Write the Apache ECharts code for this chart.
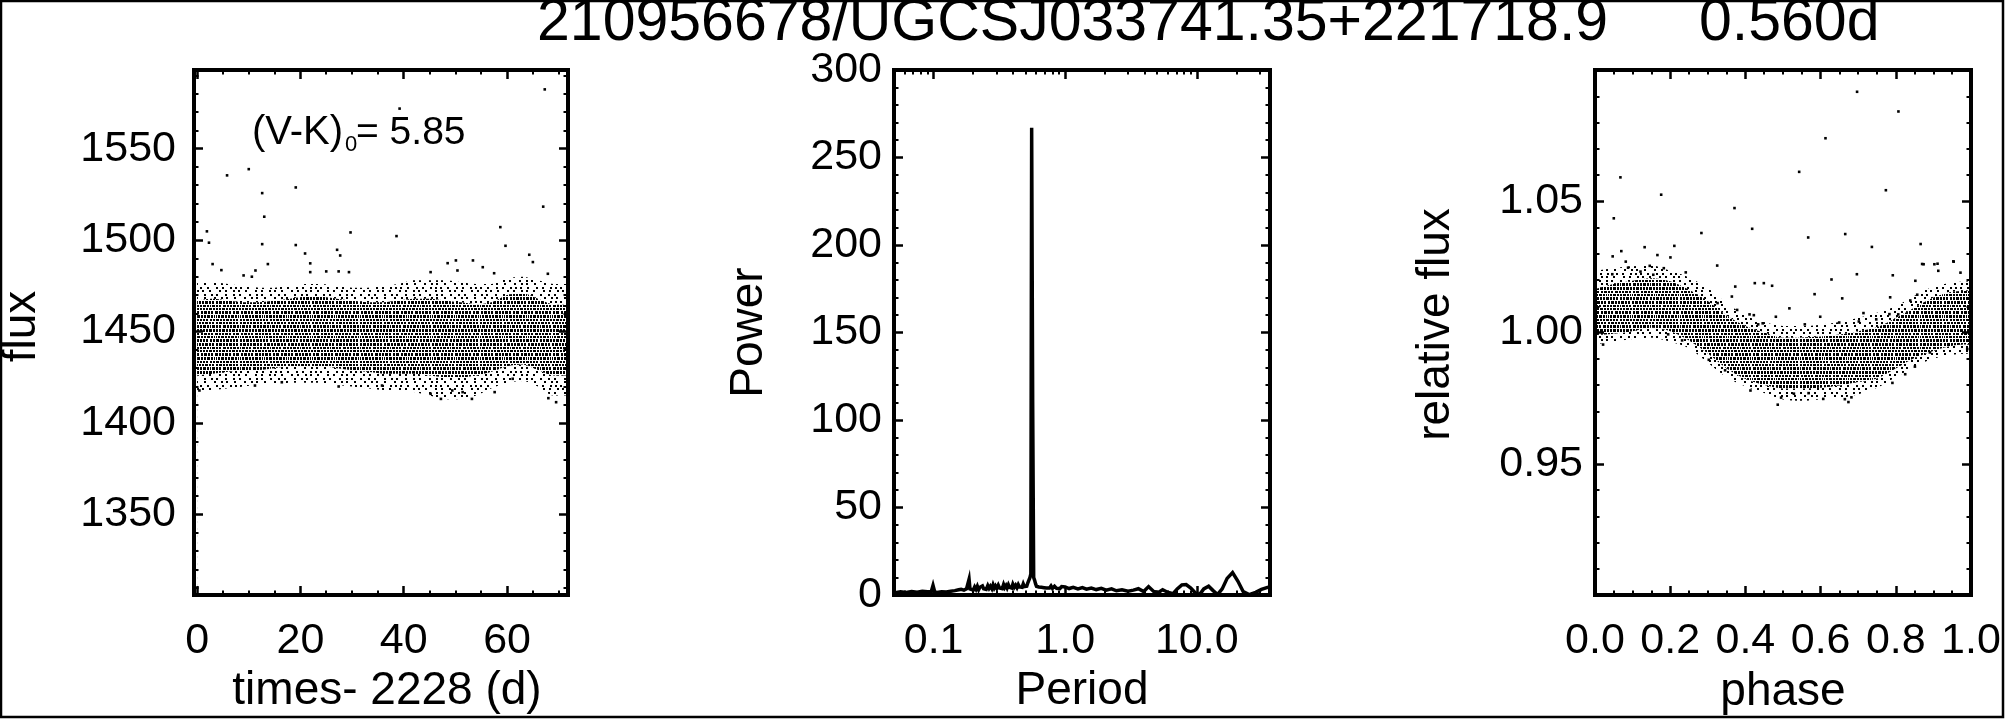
<!DOCTYPE html>
<html>
<head>
<meta charset="utf-8">
<script src="https://cdn.jsdelivr.net/npm/echarts@6.0.0/dist/echarts.min.js"></script>
<style>
html,body{margin:0;padding:0;background:#fff;}
#c{width:2005px;height:720px;}
</style>
</head>
<body>
<div id="c"></div>
<script>
// ---------- text ----------
const titleMain = '210956678/UGCSJ033741.35+221718.9';
const titlePeriod = '0.560d';

// ---------- tick labels ----------
const timeTicks = [0, 20, 40, 60];
const fluxTicks = [1350, 1400, 1450, 1500, 1550];
const periodTicks = [0.1, 1, 10];
const powerTicks = [0, 50, 100, 150, 200, 250, 300];
const phaseTicks = [0, 0.2, 0.4, 0.6, 0.8, 1.0];
const relFluxTicks = [0.95, 1.00, 1.05];

// ---------- panel 1: light curve (band edges read at 3-day steps) ----------
const lcTime      = [0,3,6,9,12,15,18,21,24,27,30,33,36,39,42,45,48,51,54,57,60,63,66,69,72];
const lcOuterLow  = [1417,1418,1419,1420,1421,1421,1422,1422,1422,1421,1420,1419,1418,1418,1417,1415,1413,1413,1415,1419,1422,1423,1420,1415,1415];
const lcCoreLow   = [1426,1427,1428,1429,1429,1430,1431,1431,1431,1430,1429,1428,1427,1427,1427,1426,1425,1425,1426,1428,1431,1432,1429,1426,1426];
const lcCoreHigh  = [1467,1468,1467,1466,1466,1467,1468,1469,1469,1468,1467,1466,1466,1467,1468,1468,1467,1466,1465,1466,1470,1471,1468,1465,1465];
const lcOuterHigh = [1477,1477,1476,1475,1474,1474,1475,1476,1476,1475,1474,1474,1475,1476,1478,1478,1478,1477,1476,1476,1479,1480,1478,1476,1476];
// isolated points outside the band [time, flux]
const lcPoints = [
 [0.45,1417.8],[1.9,1504.8],[2.3,1498.6],[3.0,1486.9],[4.7,1483.6],[5.8,1535.4],[9.0,1480.7],[10.0,1538.8],
 [10.6,1480.0],[11.2,1420.5],[11.3,1483.4],[12.6,1525.7],[12.6,1497.8],[13.0,1512.8],[13.7,1486.9],[16.4,1422.3],
 [19.1,1528.8],[19.1,1497.3],[20.9,1492.7],[21.9,1487.3],[21.9,1482.5],[25.0,1482.9],[27.1,1494.7],[27.4,1482.9],
 [27.4,1420.0],[27.7,1491.6],[29.4,1482.5],[29.7,1504.2],[35.8,1420.5],[38.6,1502.2],[39.2,1571.9],[45.2,1482.5],
 [45.2,1416.0],[47.2,1413.2],[48.5,1487.4],[49.4,1417.8],[50.1,1488.9],[50.4,1483.4],[51.4,1416.9],[53.2,1413.2],
 [53.4,1488.9],[55.3,1485.2],[57.5,1481.9],[57.6,1416.9],[58.7,1507.1],[59.7,1496.9],[61.1,1424.2],[64.3,1492.0],
 [65.0,1488.0],[67.0,1518.3],[67.3,1582.4],[67.9,1481.6],[68.0,1413.6],[69.5,1411.4]
];

// ---------- panel 2: periodogram ----------
const pgPeriod = [
 0.050,0.056,0.062,0.068,0.075,0.082,0.090,0.096,0.099,0.102,0.106,0.115,0.125,0.135,0.145,0.155,0.162,0.170,0.178,0.184,
 0.186,0.189,0.195,0.200,0.205,0.210,0.215,0.220,0.225,0.230,0.235,0.240,0.245,0.251,0.258,0.264,0.270,0.277,0.283,0.289,
 0.295,0.302,0.310,0.317,0.325,0.332,0.340,0.347,0.355,0.362,0.370,0.377,0.385,0.392,0.400,0.410,0.420,0.430,0.440,0.450,
 0.460,0.470,0.480,0.490,0.500,0.510,0.520,0.530,0.540,0.548,0.556,0.566,0.576,0.585,0.595,0.605,0.615,0.630,0.645,0.660,
 0.675,0.690,0.705,0.720,0.740,0.760,0.780,0.800,0.830,0.860,0.880,0.910,0.940,0.970,1.00,1.07,1.15,1.25,1.35,1.45,
 1.58,1.72,1.88,2.05,2.25,2.45,2.70,3.00,3.30,3.60,3.95,4.30,4.70,5.10,5.50,6.00,6.60,7.10,7.70,8.30,
 9.00,9.80,10.5,11.3,12.3,13.3,14.4,15.6,17.0,18.7,20.5,22.5,25.0,28.0,31.0,35.0];
const pgPower = [
 1.2,1.8,1.5,2.0,1.6,2.2,1.8,2.0,5.5,1.8,1.5,1.9,1.7,2.2,2.5,3.0,3.3,2.8,3.6,3.2,
 9.0,3.5,4.2,2.8,4.6,3.2,5.0,3.0,4.4,3.4,5.2,3.6,4.6,3.2,5.4,3.8,5.0,3.6,5.8,4.0,
 5.2,3.8,5.6,4.0,5.0,3.6,6.0,4.2,5.4,4.0,5.8,4.4,5.2,4.0,6.2,4.4,5.6,4.2,6.0,4.6,
 5.4,4.4,6.4,4.8,5.6,5.0,7.0,8.0,10,12,267,110,10,8.5,6.5,5.0,6.0,4.6,5.6,4.4,
 5.4,4.2,5.2,4.0,5.0,4.0,5.2,3.8,5.0,3.8,4.8,3.6,4.8,3.8,4.6,3.7,4.4,3.5,4.2,3.3,
 4.0,3.1,3.8,2.8,3.5,2.4,3.0,2.2,2.8,3.6,2.0,4.8,2.0,1.5,3.0,1.6,0.8,3.5,5.8,6.0,
 4.0,1.0,0.2,3.5,5.0,2.5,0.3,3.5,9.5,12.8,8.0,2.0,0.2,1.5,3.2,4.5];

// ---------- panel 3: phased light curve (band edges at 0.05 phase steps) ----------
const phGrid      = [0,0.05,0.10,0.15,0.20,0.25,0.30,0.35,0.40,0.45,0.50,0.55,0.60,0.65,0.70,0.75,0.80,0.85,0.90,0.95,1.00];
const phOuterLow  = [0.9955,0.9965,0.9975,0.9980,0.9965,0.9940,0.9885,0.9830,0.9795,0.9770,0.9745,0.9740,0.9745,0.9750,0.9765,0.9790,0.9830,0.9870,0.9900,0.9915,0.9920];
const phCoreLow   = [0.9990,0.9995,1.0005,1.0018,1.0005,0.9970,0.9920,0.9863,0.9823,0.9800,0.9787,0.9787,0.9790,0.9798,0.9811,0.9825,0.9863,0.9903,0.9930,0.9950,0.9955];
const phCoreHigh  = [1.0165,1.0185,1.0197,1.0207,1.0195,1.0163,1.0120,1.0065,1.0025,1.0000,0.9980,0.9981,0.9985,0.9992,1.0005,1.0020,1.0055,1.0095,1.0133,1.0155,1.0160];
const phOuterHigh = [1.0235,1.0245,1.0252,1.0255,1.0235,1.0210,1.0170,1.0112,1.0065,1.0040,1.0025,1.0025,1.0030,1.0040,1.0055,1.0075,1.0100,1.0140,1.0175,1.0190,1.0195];
const phPoints = [
 [0.0215,0.9954],[0.046,1.0222],[0.047,1.029],[0.050,1.0435],[0.0676,1.0591],[0.070,1.031],[0.0818,1.027],[0.088,1.0247],
 [0.121,1.0232],[0.132,1.0325],[0.1456,1.0254],[0.155,1.022],[0.166,1.0295],[0.176,1.0525],[0.183,1.0245],[0.1945,0.9993],
 [0.2006,1.0286],[0.211,1.033],[0.2317,0.997],[0.2414,1.0229],[0.283,1.0379],[0.3026,0.9896],[0.325,1.0255],[0.326,1.0112],
 [0.346,0.9856],[0.364,1.0137],[0.371,1.0474],[0.373,1.0175],[0.378,1.0086],[0.411,1.0069],[0.4135,0.9779],[0.418,1.0395],
 [0.4224,1.0066],[0.425,1.0188],[0.434,1.0031],[0.446,1.0035],[0.449,1.0188],[0.471,1.0178],[0.481,1.006],[0.486,0.9725],
 [0.495,0.9752],[0.517,1.0092],[0.529,0.9767],[0.543,1.0612],[0.558,1.0031],[0.567,1.0362],[0.568,0.9769],[0.584,1.0146],
 [0.599,1.006],[0.607,0.9747],[0.613,1.074],[0.629,1.0202],[0.6495,1.0038],[0.6575,1.013],[0.6645,0.9746],[0.6655,1.0375],
 [0.674,0.9735],[0.682,0.9753],[0.6965,1.0222],[0.697,1.0917],[0.7017,1.0042],[0.714,1.0074],[0.7364,1.0326],[0.748,1.005],
 [0.7736,1.0542],[0.783,1.007],[0.785,1.0134],[0.791,0.9808],[0.792,1.0218],[0.8065,1.0069],[0.807,1.0842],[0.825,0.9841],
 [0.8385,1.0122],[0.8508,0.987],[0.852,1.0197],[0.857,1.0144],[0.866,1.0337],[0.870,1.0261],[0.874,1.026],[0.8907,0.9924],
 [0.9026,1.026],[0.911,1.0262],[0.913,1.0235],[0.953,1.0271],[0.954,1.027],[0.972,1.0228],[0.99,0.9937]
];

// ---------- styling ----------
const FONT = '"Liberation Sans", Arial, Helvetica, sans-serif';
const denseDecal = {
  symbol: 'rect', symbolSize: 1, symbolKeepAspect: false, color: '#000', backgroundColor: null,
  dashArrayY: [2, 1, 3, 1, 3, 1, 2, 1],
  dashArrayX: [
    [2,1,3,1,2,1,2,1,3,1,2,1,2,2],
    [1,1,3,1,2,1,2,2,3,1,2,1,2,1,3,1,2,1],
    [2,1,2,1,3,1,2,1,2,1,3,1,2,1,2,1,2,1,3,1,2,1],
    [0,1,2,1,3,1,2,1,2,2,3,1,2,1,2,1,3,1,2,2,2,1,3,1],
    [1,1,2,1,3,1,2,1,2,1,3,1,2,1,1,1],
    [2,1,2,1,3,1,2,1,2,1,3,1,2,1,2,1,2,2]
  ],
  maxTileWidth: 512, maxTileHeight: 512
};
const sparseDecal = {
  symbol: 'rect', symbolSize: 1, symbolKeepAspect: false, color: '#000', backgroundColor: null,
  dashArrayY: [2, 1, 2, 2],
  dashArrayX: [
    [2,5,2,7,2,4,2,6,2,3,2,3],
    [0,3,2,4,2,6,2,3,2,5,2,5],
    [2,6,2,4,2,8,2,5,2,3,2,7],
    [0,4,2,5,2,3,2,6,2,4]
  ],
  maxTileWidth: 512, maxTileHeight: 512
};

function fmt(list, digits) {
  return function (v) {
    for (const t of list) {
      if (Math.abs(t - v) < 1e-6 * Math.max(1, Math.abs(t))) return Number(v).toFixed(digits);
    }
    return '';
  };
}
const tickStyle = { show: true, inside: true, length: 9, lineStyle: { color: '#000', width: 2.5 } };
function minor(n) { return { show: true, splitNumber: n, length: 4.5, lineStyle: { color: '#000', width: 2 } }; }
function nameStyle(pad) { return { fontSize: 46, fontFamily: FONT, color: '#000', padding: pad || 0 }; }
function baseAxis(o) {
  return Object.assign({
    z: 10,
    axisLine: { show: false, onZero: false },
    axisTick: tickStyle,
    splitLine: { show: false },
    nameMoveOverlap: false
  }, o);
}
function label(margin, formatter) {
  return { show: true, margin: margin, color: '#000', fontSize: 43, fontFamily: FONT, formatter: formatter };
}
function pairX(grid, o, lab, nm, gap, pad) {
  const bottom = baseAxis(Object.assign({ gridIndex: grid, position: 'bottom', axisLabel: lab,
    name: nm, nameLocation: 'middle', nameGap: gap, nameTextStyle: nameStyle(pad) }, o));
  const top = baseAxis(Object.assign({ gridIndex: grid, position: 'top', axisLabel: { show: false } }, o));
  return [bottom, top];
}
function pairY(grid, o, lab, nm, gap, pad) {
  const left = baseAxis(Object.assign({ gridIndex: grid, position: 'left', axisLabel: lab,
    name: nm, nameLocation: 'middle', nameGap: gap, nameTextStyle: nameStyle(pad) }, o));
  const right = baseAxis(Object.assign({ gridIndex: grid, position: 'right', axisLabel: { show: false } }, o));
  return [left, right];
}

function band(xi, yi, xs, ys, decal, z) {
  const s = {
    type: 'line', xAxisIndex: xi, yAxisIndex: yi, silent: true, z: z,
    data: xs.map((x, i) => [x, ys[i]]),
    symbol: 'none', showSymbol: false, smooth: 0.3,
    lineStyle: { width: 0, opacity: 0 },
    areaStyle: { color: '#fff', opacity: 1, origin: 'start' }
  };
  if (decal) s.itemStyle = { color: '#000', decal: decal };
  return s;
}
function dots(xi, yi, pts) {
  return { type: 'scatter', xAxisIndex: xi, yAxisIndex: yi, silent: true, z: 6,
    symbol: 'rect', symbolSize: 2.6, itemStyle: { color: '#000', opacity: 1 }, data: pts };
}

const gridCommon = { show: true, borderColor: '#000', borderWidth: 4, backgroundColor: 'rgba(0,0,0,0)', z: 10, outerBoundsMode: 'none', containLabel: false };
const titleStyle = { fontSize: 59, fontWeight: 'normal', fontFamily: FONT, color: '#000' };

const option = {
  animation: false,
  backgroundColor: '#fff',
  textStyle: { fontFamily: FONT, color: '#000' },
  title: [
    { text: titleMain, left: 537, top: -6, padding: 0, textStyle: titleStyle },
    { text: titlePeriod, left: 1699, top: -6, padding: 0, textStyle: titleStyle }
  ],
  grid: [
    Object.assign({ left: 194, top: 70, width: 374, height: 525 }, gridCommon),
    Object.assign({ left: 894, top: 70, width: 376, height: 525 }, gridCommon),
    Object.assign({ left: 1595, top: 70, width: 376, height: 525 }, gridCommon)
  ],
  xAxis: [].concat(
    pairX(0, { type: 'value', min: -0.6, max: 71.8, minInterval: 20, maxInterval: 20, minorTick: minor(4) },
      label(25, fmt(timeTicks, 0)), 'times- 2228 (d)', 73, [0, 0, 0, 12]),
    pairX(1, { type: 'log', logBase: 10, min: 0.05, max: 36, minorTick: minor(9) },
      label(25, fmt(periodTicks, 1)), 'Period', 73),
    pairX(2, { type: 'value', min: 0, max: 1, minInterval: 0.2, maxInterval: 0.2, minorTick: minor(4) },
      label(25, fmt(phaseTicks, 1)), 'phase', 74)
  ),
  yAxis: [].concat(
    pairY(0, { type: 'value', min: 1306, max: 1593, minInterval: 50, maxInterval: 50, minorTick: minor(5) },
      label(18, fmt(fluxTicks, 0)), 'flux', 149, [0, 0, 0, 12]),
    pairY(1, { type: 'value', min: 0, max: 300, minInterval: 50, maxInterval: 50, minorTick: minor(5) },
      label(12, fmt(powerTicks, 0)), 'Power', 122),
    pairY(2, { type: 'value', min: 0.9, max: 1.1, minInterval: 0.05, maxInterval: 0.05, minorTick: minor(5) },
      label(12, fmt(relFluxTicks, 2)), 'relative flux', 136, [0, 0, 0, 16])
  ),
  series: [
    // panel 1 band layers
    band(0, 0, lcTime, lcOuterHigh, sparseDecal, 1),
    band(0, 0, lcTime, lcCoreHigh, denseDecal, 2),
    band(0, 0, lcTime, lcCoreLow, sparseDecal, 3),
    band(0, 0, lcTime, lcOuterLow, null, 4),
    dots(0, 0, lcPoints),
    // panel 2 periodogram
    {
      type: 'line', xAxisIndex: 2, yAxisIndex: 2, silent: true, z: 5,
      data: pgPeriod.map((p, i) => [p, pgPower[i]]),
      symbol: 'none', showSymbol: false,
      lineStyle: { color: '#000', width: 3.5, join: 'miter' }
    },
    // panel 3 band layers
    band(4, 4, phGrid, phOuterHigh, sparseDecal, 1),
    band(4, 4, phGrid, phCoreHigh, denseDecal, 2),
    band(4, 4, phGrid, phCoreLow, sparseDecal, 3),
    band(4, 4, phGrid, phOuterLow, null, 4),
    dots(4, 4, phPoints)
  ],
  graphic: [
    { type: 'rect', silent: true, z: 100, shape: { x: 1, y: 1, width: 2002, height: 716 },
      style: { fill: null, stroke: '#000', lineWidth: 2.5 } },
    { type: 'text', silent: true, z: 100, x: 252, y: 133,
      style: { text: '(V-K)', fontSize: 40, fontFamily: FONT, fill: '#000', verticalAlign: 'middle', align: 'left' } },
    { type: 'text', silent: true, z: 100, x: 345, y: 145,
      style: { text: '0', fontSize: 22, fontFamily: FONT, fill: '#000', verticalAlign: 'middle', align: 'left' } },
    { type: 'text', silent: true, z: 100, x: 356, y: 133,
      style: { text: '= 5.85', fontSize: 39, fontFamily: FONT, fill: '#000', verticalAlign: 'middle', align: 'left' } }
  ]
};

const chart = echarts.init(document.getElementById('c'), null, { renderer: 'canvas', width: 2005, height: 720 });
chart.setOption(option);
</script>
</body>
</html>
